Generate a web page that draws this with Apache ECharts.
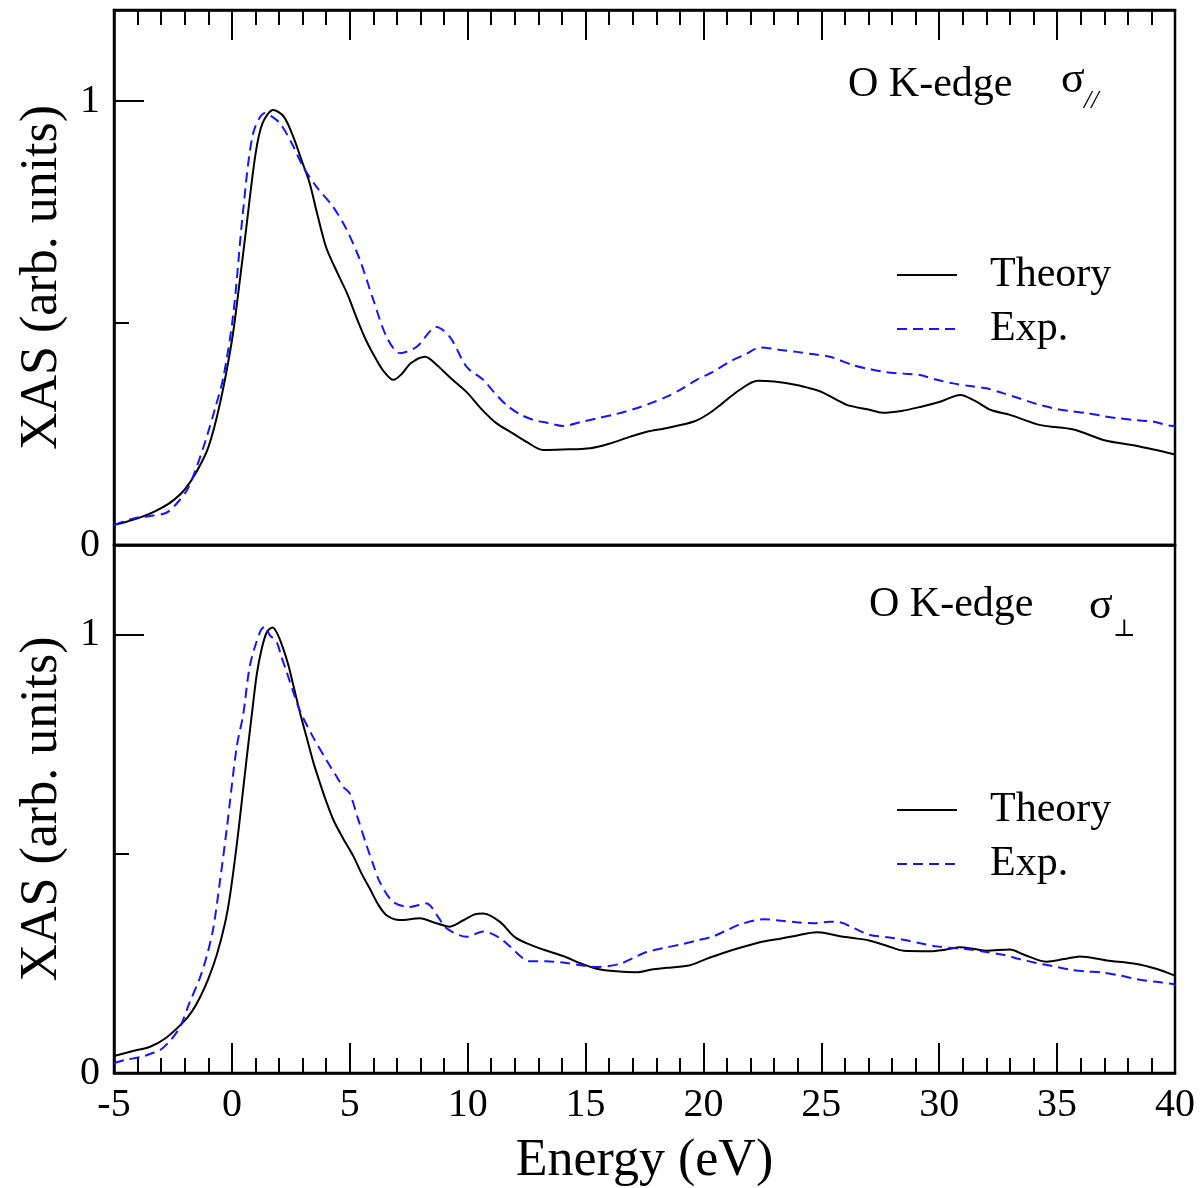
<!DOCTYPE html>
<html><head><meta charset="utf-8">
<script src="https://cdn.jsdelivr.net/npm/echarts@6/dist/echarts.min.js"></script>
<style>html,body{margin:0;padding:0;background:#fff}#c{width:1203px;height:1188px}</style>
</head><body><div id="c"></div>
<script>
// ---------- data (energy in eV, XAS in arb. units) ----------
const xTickStep = 5;               // major x ticks every 5 eV (-5 ... 40)
const xRange = [-5, 40];
const yRange = [0, 1.205];
const yMajorTicks = [0, 1];
const yMinorTicks = [0.5];
const legendNames = ['Theory', 'Exp.'];

// sigma parallel panel
const theoryPar = [[-5,0.045],[-4.5,0.052],[-4,0.060],[-3.5,0.070],[-3,0.083],[-2.5,0.100],[-2,0.125],[-1.5,0.165],[-1,0.220],[-0.5,0.320],[0,0.460],[0.3,0.580],[0.6,0.710],[1.0,0.880],[1.3,0.950],[1.75,0.980],[2.2,0.965],[2.6,0.920],[3.0,0.860],[3.3,0.815],[3.6,0.750],[4.0,0.670],[4.5,0.610],[4.9,0.565],[5.3,0.510],[5.7,0.460],[6.1,0.420],[6.4,0.394],[6.85,0.372],[7.2,0.385],[7.6,0.410],[8.2,0.424],[8.7,0.405],[9.3,0.375],[10.0,0.342],[10.5,0.311],[11.2,0.275],[11.9,0.252],[12.5,0.232],[13.2,0.214],[14,0.215],[15.2,0.218],[16,0.228],[16.9,0.244],[17.6,0.255],[18.4,0.263],[19.6,0.278],[20.2,0.295],[20.8,0.319],[21.5,0.348],[22.3,0.370],[23,0.368],[24,0.360],[24.5,0.353],[25,0.345],[25.8,0.323],[26.1,0.315],[27,0.305],[27.6,0.298],[28.4,0.302],[29.2,0.311],[30,0.322],[30.9,0.338],[31.5,0.325],[32.2,0.304],[33,0.293],[34.3,0.270],[35.7,0.260],[37,0.236],[38.4,0.223],[40,0.204]];
const expPar = [[-5,0.045],[-4.5,0.055],[-4,0.062],[-3.5,0.065],[-2.8,0.072],[-2.4,0.090],[-1.9,0.124],[-1.5,0.175],[-1.07,0.243],[-0.7,0.310],[-0.36,0.378],[0.06,0.520],[0.48,0.755],[0.9,0.927],[1.4,0.973],[1.7,0.965],[2.04,0.950],[2.54,0.905],[3.03,0.851],[3.6,0.806],[4.3,0.761],[4.87,0.710],[5.43,0.642],[6.0,0.552],[6.56,0.469],[7.13,0.432],[7.83,0.446],[8.68,0.491],[9.25,0.468],[9.96,0.401],[10.66,0.372],[11.1,0.345],[11.65,0.315],[12.2,0.295],[12.78,0.282],[13.4,0.275],[14.05,0.268],[14.8,0.277],[15.47,0.285],[16.3,0.295],[17.16,0.308],[17.8,0.320],[18.44,0.334],[19.1,0.352],[19.71,0.372],[20.4,0.390],[21.12,0.413],[21.8,0.430],[22.4,0.445],[23.2,0.440],[23.95,0.435],[24.6,0.430],[25.36,0.424],[26.35,0.405],[27.06,0.396],[27.77,0.389],[28.5,0.386],[29.18,0.383],[29.9,0.372],[30.6,0.364],[31.3,0.358],[32.0,0.353],[32.7,0.342],[33.42,0.330],[34.1,0.318],[34.83,0.308],[35.5,0.302],[36.25,0.297],[37,0.290],[37.66,0.285],[38.4,0.281],[39.07,0.278],[39.9,0.268],[40,0.270]];

// sigma perpendicular panel
const theoryPerp = [[-5,0.039],[-4.2,0.050],[-3.47,0.060],[-2.8,0.080],[-2.06,0.116],[-1.7,0.140],[-1.35,0.173],[-1.0,0.215],[-0.64,0.270],[-0.3,0.340],[-0.08,0.405],[0.2,0.518],[0.4,0.610],[0.63,0.720],[0.85,0.820],[1.05,0.908],[1.25,0.965],[1.48,1.006],[1.73,1.017],[1.95,1.000],[2.18,0.968],[2.4,0.930],[2.6,0.886],[2.9,0.820],[3.17,0.766],[3.45,0.710],[3.74,0.661],[4.0,0.620],[4.3,0.578],[4.7,0.537],[5.15,0.495],[5.5,0.455],[5.86,0.420],[6.2,0.385],[6.56,0.360],[7.13,0.349],[7.98,0.353],[8.6,0.343],[9.25,0.334],[9.8,0.348],[10.3,0.362],[10.66,0.364],[11.37,0.345],[12.0,0.310],[12.64,0.293],[13.3,0.280],[14.05,0.267],[14.8,0.250],[15.47,0.238],[16.3,0.232],[17.16,0.230],[17.8,0.236],[18.44,0.240],[19.43,0.246],[20.1,0.260],[20.84,0.274],[21.7,0.288],[22.54,0.300],[23.2,0.306],[23.81,0.312],[24.8,0.321],[25.3,0.318],[25.79,0.312],[26.35,0.308],[27.06,0.302],[27.8,0.290],[28.48,0.279],[29.61,0.278],[30.3,0.282],[30.88,0.287],[31.5,0.283],[32.0,0.279],[33.0,0.282],[33.6,0.270],[34.55,0.254],[35.3,0.260],[35.97,0.266],[37.1,0.257],[38.37,0.249],[39.2,0.238],[39.92,0.224],[40,0.222]];
const expPerp = [[-5,0.023],[-4.5,0.030],[-3.76,0.038],[-3.4,0.045],[-3.05,0.052],[-2.6,0.075],[-2.2,0.105],[-1.8,0.160],[-1.35,0.218],[-1.05,0.270],[-0.79,0.330],[-0.5,0.440],[-0.22,0.556],[0.2,0.743],[0.48,0.818],[0.77,0.931],[1.19,1.006],[1.4,1.020],[1.6,1.000],[1.9,0.983],[2.1,0.950],[2.32,0.916],[2.6,0.870],[2.89,0.826],[3.45,0.766],[4.02,0.713],[4.4,0.680],[4.72,0.653],[5.0,0.638],[5.35,0.580],[5.72,0.518],[6.0,0.475],[6.28,0.435],[6.85,0.390],[7.55,0.379],[8.26,0.387],[8.7,0.360],[9.11,0.330],[9.96,0.311],[10.66,0.323],[11.37,0.308],[11.79,0.289],[12.64,0.255],[13.3,0.255],[14.05,0.252],[14.8,0.246],[15.47,0.242],[16.46,0.249],[17.0,0.262],[17.59,0.276],[18.3,0.285],[19.0,0.293],[19.7,0.302],[20.42,0.312],[21.0,0.326],[21.55,0.339],[22.54,0.351],[23.2,0.348],[23.95,0.344],[24.7,0.342],[25.36,0.345],[25.79,0.344],[26.4,0.330],[27.06,0.315],[27.8,0.310],[28.48,0.304],[29.2,0.296],[29.89,0.289],[30.6,0.285],[31.3,0.282],[32.0,0.276],[32.71,0.270],[33.4,0.260],[34.13,0.251],[34.8,0.244],[35.54,0.236],[36.2,0.232],[36.96,0.229],[37.7,0.222],[38.37,0.214],[39.2,0.208],[39.92,0.203],[40,0.200]];

// ---------- chart ----------
const F = 'Liberation Serif';
const BLUE = '#1414ff';
const chart = echarts.init(document.getElementById('c'), null, {renderer: 'canvas'});
const axisLineOn = {show: true, onZero: false, lineStyle: {color: '#000', width: 2.5}};

function xAx(grid, pos, ticks, labels, extra) {
  return Object.assign({
    type: 'value', gridIndex: grid, position: pos, min: xRange[0], max: xRange[1], interval: xTickStep,
    axisLine: axisLineOn,
    axisTick: {show: ticks, inside: true, length: 30, lineStyle: {color: '#000', width: 2}},
    minorTick: {show: ticks, splitNumber: 5, length: 15, lineStyle: {color: '#000', width: 2}},
    axisLabel: {show: labels, fontFamily: F, fontSize: 40, color: '#000', margin: 12},
    splitLine: {show: false}, minorSplitLine: {show: false}
  }, extra || {});
}
function yAx(grid, major, extra) {
  return Object.assign({
    type: 'value', gridIndex: grid, position: 'left', min: yRange[0], max: yRange[1],
    axisLine: major ? axisLineOn : {show: false, onZero: false},
    axisTick: {show: true, inside: true, length: major ? 30 : 15,
      customValues: major ? yMajorTicks : yMinorTicks, lineStyle: {color: '#000', width: 2}},
    axisLabel: {show: major, customValues: yMajorTicks, fontFamily: F, fontSize: 40, color: '#000', margin: 14},
    splitLine: {show: false}
  }, extra || {});
}
const nameStyle = {fontFamily: F, fontSize: 52, color: '#000'};

function lineSeries(name, xi, yi, data) {
  const isExp = name === 'Exp.';
  return {
    type: 'line', name: name, xAxisIndex: xi, yAxisIndex: yi, data: data,
    symbol: 'none', smooth: 0.3, animation: false,
    lineStyle: {color: isExp ? BLUE : '#000', width: 2, type: isExp ? [10, 6] : 'solid'},
    itemStyle: {color: isExp ? BLUE : '#000'}
  };
}
function legendAt(top) {
  return {
    orient: 'vertical', left: 896, top: top, padding: 0, itemWidth: 60, itemHeight: 2, itemGap: 12,
    data: legendNames, selectedMode: false,
    itemStyle: {opacity: 0},
    textStyle: {fontFamily: F, fontSize: 42, color: '#000', padding: [0, 0, 0, 28]}
  };
}

chart.setOption({
  backgroundColor: '#fff',
  animation: false,
  grid: [
    {left: 114, top: 10, width: 1061, height: 535, show: true, borderColor: '#000', borderWidth: 2.5, backgroundColor: 'transparent'},
    {left: 114, top: 545, width: 1061, height: 535, show: true, borderColor: '#000', borderWidth: 2.5, backgroundColor: 'transparent'}
  ],
  xAxis: [
    xAx(0, 'bottom', false, false),
    xAx(0, 'top', true, false),
    xAx(1, 'bottom', true, true, {name: 'Energy (eV)', nameLocation: 'middle', nameGap: 62, nameTextStyle: nameStyle})
  ],
  yAxis: [
    yAx(0, true, {name: 'XAS (arb. units)', nameLocation: 'middle', nameGap: 46, nameTextStyle: nameStyle}),
    yAx(0, false),
    yAx(1, true, {name: 'XAS (arb. units)', nameLocation: 'middle', nameGap: 46, nameTextStyle: nameStyle}),
    yAx(1, false)
  ],
  legend: [legendAt(254), legendAt(789)],
  series: [
    lineSeries('Theory', 0, 0, theoryPar),
    lineSeries('Exp.', 0, 0, expPar),
    lineSeries('Theory', 2, 2, theoryPerp),
    lineSeries('Exp.', 2, 2, expPerp)
  ],
  graphic: [
    {type: 'text', left: 848, top: 64, style: {text: 'O K-edge', font: '42px "Liberation Serif"', fill: '#000'}},
    {type: 'text', left: 1061, top: 58, style: {text: 'σ', font: '44px "Liberation Serif"', fill: '#000'}},
    {type: 'text', left: 1084, top: 88, style: {text: '//', font: 'italic 26px "Liberation Serif"', fill: '#000'}},
    {type: 'text', left: 869, top: 584, style: {text: 'O K-edge', font: '42px "Liberation Serif"', fill: '#000'}},
    {type: 'text', left: 1089, top: 584, style: {text: 'σ', font: '44px "Liberation Serif"', fill: '#000'}},
    {type: 'text', left: 1113, top: 618, style: {text: '⊥', font: '24px "DejaVu Serif"', fill: '#000'}}
  ]
});
</script></body></html>
